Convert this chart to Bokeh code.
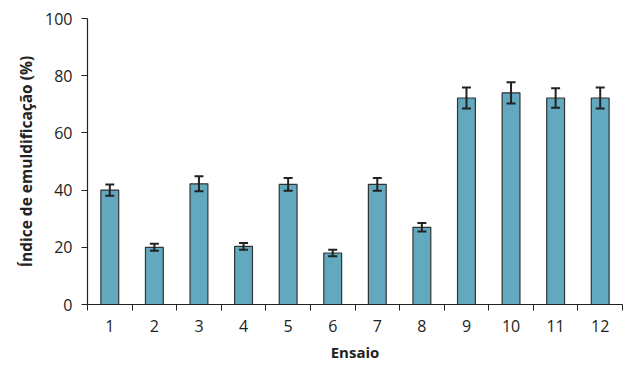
from bokeh.plotting import figure
from bokeh.models import ColumnDataSource, Whisker, TeeHead, FixedTicker, Range1d
from bokeh.embed import file_html
from bokeh.resources import INLINE

ensaios = [1, 2, 3, 4, 5, 6, 7, 8, 9, 10, 11, 12]
indice = [40.0, 20.0, 42.2, 20.3, 42.0, 18.0, 42.0, 27.0, 72.2, 74.0, 72.2, 72.2]
erro = [2.0, 1.2, 2.6, 1.2, 2.2, 1.1, 2.2, 1.5, 3.7, 3.7, 3.4, 3.7]
y_ticks = [0, 20, 40, 60, 80, 100]

src = ColumnDataSource(dict(
    x=ensaios, top=indice,
    upper=[v + e for v, e in zip(indice, erro)],
    lower=[v - e for v, e in zip(indice, erro)],
))

p = figure(width=624, height=365, output_backend="svg", toolbar_location=None,
           x_range=Range1d(0.5, 12.5), y_range=Range1d(0, 100),
           min_border_left=87, min_border_right=2, min_border_top=18, min_border_bottom=61)

p.vbar(x="x", top="top", width=0.4, source=src, fill_color="#62a8bf",
       line_color="#333333", line_width=1.2)

w = Whisker(base="x", upper="upper", lower="lower", source=src, level="overlay",
            line_color="#222222", line_width=2,
            upper_head=TeeHead(size=9, line_color="#222222", line_width=2),
            lower_head=TeeHead(size=9, line_color="#222222", line_width=2))
p.add_layout(w)

p.xgrid.visible = False
p.ygrid.visible = False
p.outline_line_color = None

font = "Open Sans"
p.xaxis.ticker = FixedTicker(ticks=ensaios, minor_ticks=[i + 0.5 for i in range(0, 13)])
p.xaxis.major_tick_out = 0
p.xaxis.major_tick_in = 0
p.xaxis.minor_tick_out = 6
p.xaxis.minor_tick_in = 0
p.xaxis.minor_tick_line_color = "#222222"
p.xaxis.axis_label = "Ensaio"

p.yaxis.ticker = FixedTicker(ticks=y_ticks)
p.yaxis.minor_tick_line_color = None
p.yaxis.major_tick_out = 6
p.yaxis.major_tick_in = 0
p.yaxis.axis_label = "Índice de emuldificação (%)"

for ax in (p.xaxis, p.yaxis):
    ax.axis_line_color = "#222222"
    ax.major_tick_line_color = "#222222"
    ax.axis_line_width = 1.2
    ax.major_label_text_font = font
    ax.major_label_text_font_size = "16px"
    ax.major_label_text_color = "#222222"
    ax.axis_label_text_font = "Open Sans"
    ax.axis_label_text_font_style = "bold"
    ax.axis_label_text_font_size = "15px"
    ax.axis_label_text_color = "#222222"

p.yaxis.axis_label_text_font_size = "15.5px"
p.xaxis.major_label_standoff = 9
p.xaxis.axis_label_standoff = 7
p.yaxis.major_label_standoff = 9
p.yaxis.axis_label_standoff = 5

open("out.html", "w").write(file_html(p, INLINE))
